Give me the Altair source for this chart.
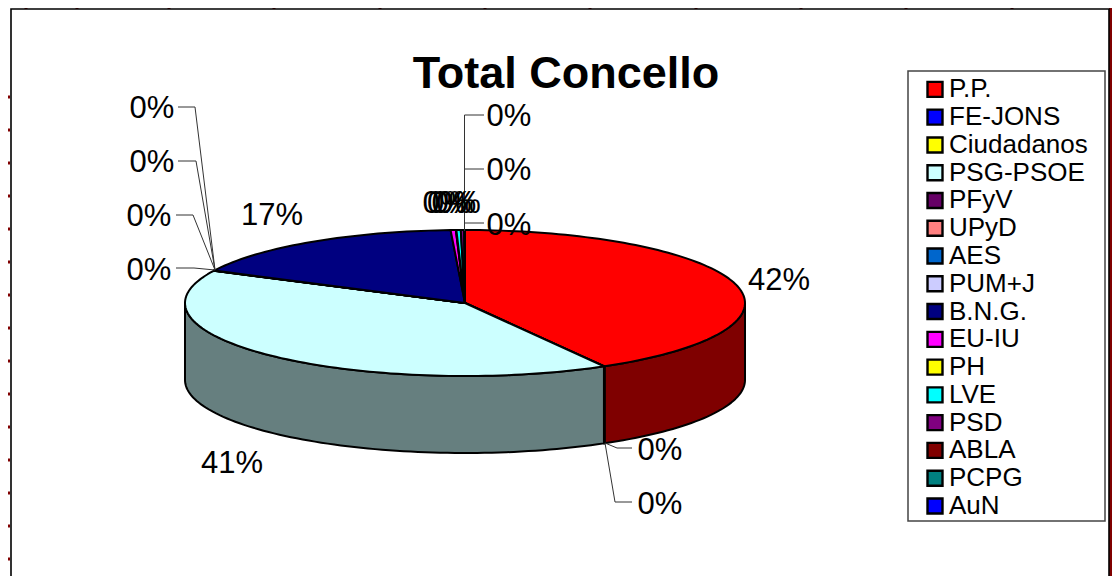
import math
import altair as alt
import pandas as pd

# ---- data -----------------------------------------------------------------
parties = ["P.P.", "FE-JONS", "Ciudadanos", "PSG-PSOE", "PFyV", "UPyD", "AES", "PUM+J",
           "B.N.G.", "EU-IU", "PH", "LVE", "PSD", "ABLA", "PCPG", "AuN"]
shares = [41.7, 0.02, 0.02, 40.55, 0.01, 0.02, 0.01, 0.01,
          16.85, 0.3, 0.03, 0.25, 0.2, 0.02, 0.01, 0.01]
colours = ["#FF0000", "#0000FF", "#FFFF00", "#CCFFFF", "#660066", "#FF8080", "#0066CC", "#CCCCFF",
           "#000080", "#FF00FF", "#FFFF00", "#00FFFF", "#800080", "#800000", "#008080", "#0000FF"]
title_text = "Total Concello"

# ---- layout ----------------------------------------------------------------
W, H = 1104, 568
CX, CY, RX, RY, DEPTH = 465, 303, 280, 73, 77
FS = 31
label_xy = {
    "P.P.": (779, 281), "FE-JONS": (660, 451), "Ciudadanos": (660, 505), "PSG-PSOE": (232, 464),
    "PFyV": (152, 109), "UPyD": (152, 163), "AES": (149, 217), "PUM+J": (149, 271),
    "B.N.G.": (272, 216), "EU-IU": (445, 204), "PH": (449.5, 204), "LVE": (454, 204), "PSD": (458.5, 204),
    "ABLA": (509, 226), "PCPG": (509, 171), "AuN": (509, 117),
}
leaders = [
    [(178, 107), (195, 107), (215, 270)], [(178, 161), (196, 161), (215, 270)],
    [(176, 215), (193, 215), (215, 270)], [(176, 268), (194, 268), (215, 270)],
    [(484, 115), (464.5, 115), (464.5, 231)], [(484, 169), (464.5, 169)], [(484, 223), (464.5, 223)],
    [(605, 443), (617, 448), (632, 448)], [(605, 443), (615, 502), (632, 502)],
]
top_ticks = [26, 77, 169, 274, 380, 485, 590, 696, 801, 906, 1012]
left_ticks = [97, 130, 163, 196, 229, 262, 295, 328, 361, 394, 427, 460, 493, 526, 559]

x_enc = lambda f="x": alt.X(f"{f}:Q", scale=alt.Scale(domain=[8, 8 + W], nice=False, zero=False), axis=None)
y_enc = lambda f="y": alt.Y(f"{f}:Q", scale=alt.Scale(domain=[8 + H, 8], nice=False, zero=False), axis=None)

def pt(t, dy=0):
    a = math.radians(t)
    return CX + RX * math.sin(a), CY - RY * math.cos(a) + dy

total = sum(shares)
layers, t = [], 0.0
spans = []
for name, s in zip(parties, shares):
    t1 = t + 360 * s / total
    spans.append((name, t, t1))
    t = t1

def halve(c):
    return "#" + "".join(f"{int(c[i:i+2], 16) // 2:02X}" for i in (1, 3, 5))

# front walls
for (name, t0, t1), c in zip(spans, colours):
    a, b = max(t0, 90), min(t1, 270)
    if b <= a:
        continue
    n = max(2, int((b - a) / 1.5))
    arc = [a + (b - a) * k / n for k in range(n + 1)]
    poly = [pt(u) for u in arc] + [pt(u, DEPTH) for u in reversed(arc)]
    poly.append(poly[0])
    d = pd.DataFrame({"x": [p[0] for p in poly], "y": [p[1] for p in poly], "i": range(len(poly))})
    layers.append(alt.Chart(d).mark_line(fill=halve(c), stroke="black", strokeWidth=2, strokeJoin="round")
                  .encode(x=x_enc(), y=y_enc(), order="i:Q"))

# top sectors
rows = []
for name, t0, t1 in spans:
    n = max(2, int((t1 - t0) / 1.5))
    poly = [(CX, CY)] + [pt(t0 + (t1 - t0) * k / n) for k in range(n + 1)] + [(CX, CY)]
    rows += [{"party": name, "x": p[0], "y": p[1], "i": i} for i, p in enumerate(poly)]
top = alt.Chart(pd.DataFrame(rows)).mark_line(stroke="black", strokeWidth=2, strokeJoin="round").encode(
    x=x_enc(), y=y_enc(), order="i:Q", detail="party:N",
    fill=alt.Fill("party:N", sort=parties,
                  scale=alt.Scale(domain=parties, range=colours),
                  legend=alt.Legend(title=None, orient="none", legendX=908, legendY=62.4, values=parties,
                                    symbolType="square", symbolSize=225, symbolStrokeColor="black",
                                    symbolStrokeWidth=2.4, symbolOpacity=1, labelFontSize=26,
                                    labelFont="Liberation Sans", labelColor="black", rowPadding=1.77,
                                    labelOffset=1, padding=6, labelLimit=300, columns=1)),
)

# frame
frame = [
    alt.Chart(pd.DataFrame({"x": top_ticks})).mark_rule(color="#800000", strokeWidth=3).encode(
        x=x_enc(), y=alt.value(0), y2=alt.value(1)),
    alt.Chart(pd.DataFrame({"y": left_ticks})).mark_rule(color="#800000", strokeWidth=3).encode(
        y=y_enc(), x=alt.value(0), x2=alt.value(2)),
    alt.Chart(pd.DataFrame({"x": [1110.5]})).mark_rule(color="#800000", strokeWidth=3).encode(
        x=x_enc(), y=alt.value(0), y2=alt.value(H)),
    alt.Chart(pd.DataFrame({"x": [11], "y": [9], "x2": [1109], "y2": [590]})).mark_rect(
        fill="white", stroke="black", strokeWidth=1.6).encode(
        x=x_enc(), y=y_enc(), x2="x2:Q", y2="y2:Q"),
]

# legend box
box = alt.Chart(pd.DataFrame({"x": [908], "y": [71], "x2": [1105], "y2": [521]})).mark_rect(
    fill="white", stroke="#444444", strokeWidth=1.5).encode(x=x_enc(), y=y_enc(), x2="x2:Q", y2="y2:Q")

# leader lines
lead_rows = [{"k": k, "i": i, "x": p[0], "y": p[1]} for k, line in enumerate(leaders) for i, p in enumerate(line)]
lead = alt.Chart(pd.DataFrame(lead_rows)).mark_line(color="#333333", strokeWidth=1).encode(
    x=x_enc(), y=y_enc(), order="i:Q", detail="k:N")

# labels
lab = pd.DataFrame({"party": parties, "text": [f"{round(100 * s / total)}%" for s in shares],
                    "x": [label_xy[p][0] for p in parties], "y": [label_xy[p][1] for p in parties]})
labels = alt.Chart(lab).mark_text(font="Liberation Sans", fontSize=FS, color="black", align="center",
                                  baseline="middle").encode(x=x_enc(), y=y_enc(), text="text:N")

ttl = alt.Chart(pd.DataFrame({"x": [566], "y": [73.5], "t": [title_text]})).mark_text(
    font="Liberation Sans", fontSize=45, fontWeight="bold", color="black", align="center",
    baseline="middle").encode(x=x_enc(), y=y_enc(), text="t:N")

chart = alt.layer(*frame, box, *layers, top, lead, labels, ttl).properties(
    width=W, height=H, padding=0, background="white",
    autosize=alt.AutoSizeParams(type="none")).configure_view(stroke=None)

chart.save("out.html", embed_options={"renderer": "svg", "actions": False})
